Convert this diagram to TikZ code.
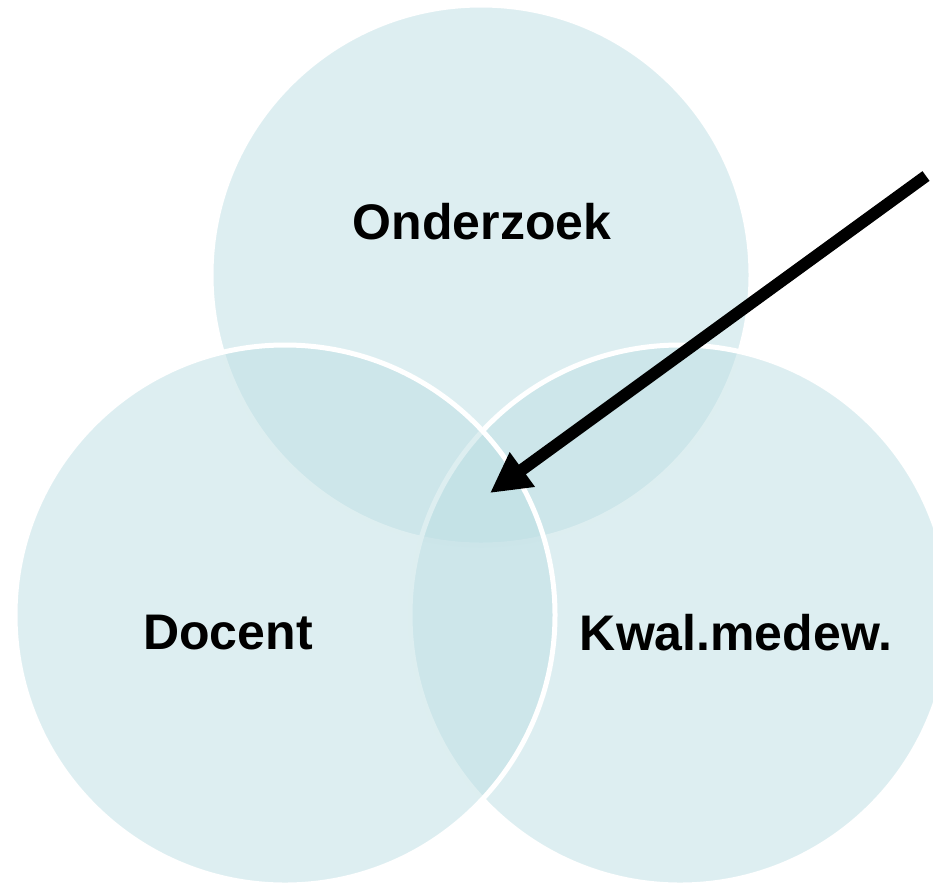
\documentclass[tikz,border=0pt]{standalone}
\usepackage{fontspec}
\setmainfont{Liberation Sans}
\usetikzlibrary{arrows.meta}
\definecolor{venn}{RGB}{188,222,227}
\begin{document}
\begin{tikzpicture}[
       x=1pt,y=-1pt,
       rol/.style={
         circle,
         draw=white,
         line width=5pt,
         fill=venn,
         fill opacity=0.5,
         inner sep=0pt,
         minimum size=540pt
       },
       naam/.style={
         font=\fontsize{50}{60}\selectfont\bfseries,
         text=black,
         inner sep=0pt
       },
       pijl/.style={
         line width=12pt,
         -{Triangle[length=40pt,width=40pt]}
       }
     ]
       \clip (0,0) rectangle (933,887);

       \node (onderzoek) at (481,275) [rol]{};
       \node (kwal) at (680,615) [rol]{};
       \node (docent) at (285,615) [rol]{};

       \node (t1) at (482,222) [naam]{Onderzoek};
       \node (t2) at (228,633) [naam]{Docent};
       \node (t3) at (736,633) [naam]{Kwal.medew.};

       \coordinate (start) at (926,176);
       \coordinate (kern) at (490,493);
       \draw[pijl] (start) -- (kern);

\end{tikzpicture}
\end{document}
